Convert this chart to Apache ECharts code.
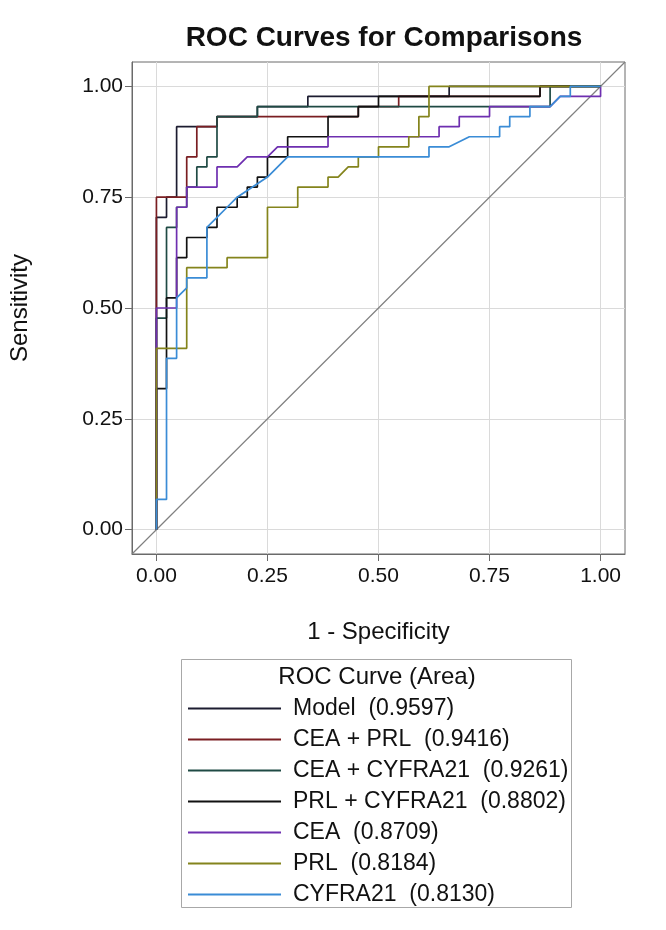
<!DOCTYPE html>
<html>
<head>
<meta charset="utf-8">
<script src="https://cdn.jsdelivr.net/npm/echarts@6/dist/echarts.min.js"></script>
<style>
    html, body { margin: 0; padding: 0; background: #fff; }
    #chart { width: 666px; height: 930px; }
</style>
</head>
<body>
<div id="chart"></div>
<script>
    // counts of false positives / true positives (44 negatives, 44 positives)
    const nNeg = 44;
    const nPos = 44;

    const curveNames = ['Model', 'CEA + PRL', 'CEA + CYFRA21', 'PRL + CYFRA21', 'CEA', 'PRL', 'CYFRA21'];
    const curveAreas = ['0.9597', '0.9416', '0.9261', '0.8802', '0.8709', '0.8184', '0.8130'];
    const curveColors = ['#1c1c30', '#7a1e22', '#1f4a44', '#111111', '#6e2fb0', '#84841c', '#3a8cd6'];

    const modelPts = [[0,0],[0,31],[1,31],[1,33],[2,33],[2,40],[6,40],[6,41],[10,41],[10,42],[15,42],[15,43],[29,43],[29,44],[44,44]];
    const ceaPrlPts = [[0,0],[0,33],[3,33],[3,35],[3,37],[4,37],[4,40],[6,40],[6,41],[20,41],[20,42],[24,42],[24,43],[38,43],[38,44],[44,44]];
    const ceaCyfraPts = [[0,0],[0,21],[1,21],[1,30],[2,30],[2,32],[3,32],[3,34],[4,34],[4,36],[5,36],[5,37],[6,37],[6,41],[10,41],[10,42],[39,42],[39,44],[44,44]];
    const prlCyfraPts = [[0,0],[0,14],[1,14],[1,23],[2,23],[2,27],[3,27],[3,29],[5,29],[5,30],[6,30],[6,32],[8,32],[8,33],[9,33],[9,34],[10,34],[10,35],[11,35],[11,37],[13,37],[13,39],[17,39],[17,41],[20,41],[20,42],[22,42],[22,43],[38,43],[38,44],[44,44]];
    const ceaPts = [[0,0],[0,22],[2,22],[2,32],[3,32],[3,34],[6,34],[6,36],[8,36],[9,37],[11,37],[12,38],[17,38],[17,39],[28,39],[28,40],[30,40],[30,41],[33,41],[33,42],[39,42],[40,43],[44,43],[44,44]];
    const prlPts = [[0,0],[0,18],[3,18],[3,26],[7,26],[7,27],[11,27],[11,32],[14,32],[14,34],[17,34],[17,35],[18,35],[19,36],[20,36],[20,37],[22,37],[22,38],[25,38],[25,39],[26,39],[26,41],[27,41],[27,44],[44,44]];
    const cyfraPts = [[0,0],[0,3],[1,3],[1,17],[2,17],[2,23],[3,24],[3,25],[5,25],[5,30],[6,31],[7,32],[8,33],[11,35],[13,37],[27,37],[27,38],[29,38],[31,39],[34,39],[34,40],[35,40],[35,41],[37,41],[37,42],[39,42],[40,43],[41,43],[41,44],[44,44]];

    const curvePts = [modelPts, ceaPrlPts, ceaCyfraPts, prlCyfraPts, ceaPts, prlPts, cyfraPts];

    const axisTicks = [0, 0.25, 0.5, 0.75, 1];
    const axisMin = -0.055;
    const axisMax = 1.055;
    const chanceLine = [[axisMin, axisMin], [axisMax, axisMax]];

    const font = '"Liberation Sans", Arial, sans-serif';

    function legendName(i) {
        return curveNames[i] + '  (' + curveAreas[i] + ')';
    }

    function getOption() {
        const series = curvePts.map((pts, i) => ({
            name: legendName(i),
            type: 'line',
            symbol: 'none',
            silent: true,
            z: 3 + i,
            lineStyle: { color: curveColors[i], width: 1.7 },
            itemStyle: { color: curveColors[i] },
            data: pts.map(p => [p[0] / nNeg, p[1] / nPos]),
        }));

        series.unshift({
            name: 'chance',
            type: 'line',
            symbol: 'none',
            silent: true,
            z: 2,
            lineStyle: { color: '#808080', width: 1.2 },
            data: chanceLine,
        });

        const axisCommon = {
            type: 'value',
            min: axisMin,
            max: axisMax,
            nameLocation: 'middle',
            nameTextStyle: { fontFamily: font, fontSize: 24, color: '#111' },
            axisLine: { show: true, onZero: false, lineStyle: { color: '#6a6a6a', width: 1 } },
            axisTick: {
                show: true,
                length: 7,
                customValues: axisTicks,
                lineStyle: { color: '#6a6a6a' },
            },
            axisLabel: {
                customValues: axisTicks,
                fontFamily: font,
                fontSize: 21,
                color: '#111',
                formatter: v => v.toFixed(2),
            },
            splitLine: { show: true, lineStyle: { color: '#dadada', width: 1 } },
        };

        return {
            animation: false,
            backgroundColor: '#fff',
            title: {
                text: 'ROC Curves for Comparisons',
                left: 379,
                textAlign: 'center',
                top: 19,
                textStyle: { fontFamily: font, fontSize: 28, fontWeight: 'bold', color: '#111' },
            },
            grid: {
                left: 130,
                top: 62,
                width: 495,
                height: 492,
                show: true,
                borderColor: '#6a6a6a',
                borderWidth: 1,
            },
            xAxis: Object.assign({}, axisCommon, {
                name: '1 - Specificity',
                nameGap: 66,
                axisLabel: Object.assign({}, axisCommon.axisLabel, { margin: 12 }),
            }),
            yAxis: Object.assign({}, axisCommon, {
                name: 'Sensitivity',
                nameGap: 100,
                axisLabel: Object.assign({}, axisCommon.axisLabel, { margin: 9 }),
            }),
            legend: {
                orient: 'vertical',
                left: 188,
                top: 697,
                padding: 0,
                itemGap: 8,
                itemWidth: 93,
                itemHeight: 2,
                icon: 'rect',
                selectedMode: false,
                data: curveNames.map((n, i) => legendName(i)),
                textStyle: {
                    fontFamily: font,
                    fontSize: 23,
                    lineHeight: 22,
                    color: '#111',
                    padding: [0, 0, 0, 7],
                },
            },
            graphic: [
                {
                    type: 'rect',
                    shape: { x: 181.5, y: 659.5, width: 390, height: 248 },
                    style: { fill: 'none', stroke: '#a8a8a8', lineWidth: 1 },
                    silent: true,
                },
                {
                    type: 'text',
                    x: 377,
                    y: 677,
                    style: {
                        text: 'ROC Curve (Area)',
                        fontFamily: font,
                        fontSize: 24,
                        fill: '#111',
                        align: 'center',
                        verticalAlign: 'middle',
                    },
                    silent: true,
                },
            ],
            series: series,
        };
    }

    const chart = echarts.init(document.getElementById('chart'), null, { renderer: 'canvas' });
    chart.setOption(getOption());
</script>
</body>
</html>
